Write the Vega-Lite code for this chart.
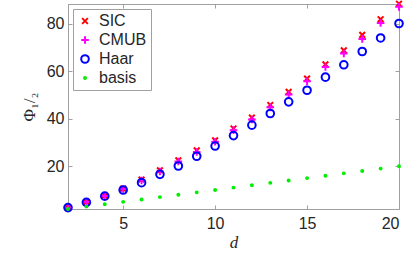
{
  "$schema": "https://vega.github.io/schema/vega-lite/v6.json",
  "width": 331,
  "height": 205,
  "autosize": {"type": "none"},
  "padding": {"left": 68, "top": 4, "right": 10, "bottom": 44},
  "background": "white",
  "config": {
    "view": {"stroke": "#a0a0a0", "strokeWidth": 1},
    "font": "Liberation Sans",
    "axis": {
      "domainColor": "#a0a0a0",
      "tickColor": "#a0a0a0",
      "grid": false,
      "labelColor": "#262626",
      "labelFont": "Liberation Sans",
      "labelFontSize": 16,
      "titleColor": "#262626",
      "tickSize": -4
    }
  },
  "data": {"values": [
    {"d": 2, "series": "SIC", "v": 2.5}, {"d": 3, "series": "SIC", "v": 5.0}, {"d": 4, "series": "SIC", "v": 7.6}, {"d": 5, "series": "SIC", "v": 10.6},
    {"d": 6, "series": "SIC", "v": 14.4}, {"d": 7, "series": "SIC", "v": 18.3}, {"d": 8, "series": "SIC", "v": 22.5}, {"d": 9, "series": "SIC", "v": 26.7},
    {"d": 10, "series": "SIC", "v": 30.9}, {"d": 11, "series": "SIC", "v": 35.9}, {"d": 12, "series": "SIC", "v": 40.5}, {"d": 13, "series": "SIC", "v": 45.8},
    {"d": 14, "series": "SIC", "v": 51.3}, {"d": 15, "series": "SIC", "v": 56.9}, {"d": 16, "series": "SIC", "v": 62.9}, {"d": 17, "series": "SIC", "v": 68.8},
    {"d": 18, "series": "SIC", "v": 75.3}, {"d": 19, "series": "SIC", "v": 81.9}, {"d": 20, "series": "SIC", "v": 88.4},
    {"d": 2, "series": "CMUB", "v": 2.4}, {"d": 3, "series": "CMUB", "v": 4.9}, {"d": 4, "series": "CMUB", "v": 7.5}, {"d": 5, "series": "CMUB", "v": 10.4},
    {"d": 6, "series": "CMUB", "v": 14.0}, {"d": 7, "series": "CMUB", "v": 17.8}, {"d": 8, "series": "CMUB", "v": 22.0}, {"d": 9, "series": "CMUB", "v": 26.0},
    {"d": 10, "series": "CMUB", "v": 30.3}, {"d": 11, "series": "CMUB", "v": 35.2}, {"d": 12, "series": "CMUB", "v": 39.7}, {"d": 13, "series": "CMUB", "v": 44.8},
    {"d": 14, "series": "CMUB", "v": 50.2}, {"d": 15, "series": "CMUB", "v": 55.8}, {"d": 16, "series": "CMUB", "v": 61.8}, {"d": 17, "series": "CMUB", "v": 67.5},
    {"d": 18, "series": "CMUB", "v": 73.6}, {"d": 19, "series": "CMUB", "v": 80.3}, {"d": 20, "series": "CMUB", "v": 87.1},
    {"d": 2, "series": "Haar", "v": 2.6}, {"d": 3, "series": "Haar", "v": 4.8}, {"d": 4, "series": "Haar", "v": 7.4}, {"d": 5, "series": "Haar", "v": 10.0},
    {"d": 6, "series": "Haar", "v": 13.1}, {"d": 7, "series": "Haar", "v": 16.6}, {"d": 8, "series": "Haar", "v": 20.1}, {"d": 9, "series": "Haar", "v": 24.2},
    {"d": 10, "series": "Haar", "v": 28.5}, {"d": 11, "series": "Haar", "v": 32.9}, {"d": 12, "series": "Haar", "v": 37.3}, {"d": 13, "series": "Haar", "v": 42.2},
    {"d": 14, "series": "Haar", "v": 47.1}, {"d": 15, "series": "Haar", "v": 52.0}, {"d": 16, "series": "Haar", "v": 57.5}, {"d": 17, "series": "Haar", "v": 62.7},
    {"d": 18, "series": "Haar", "v": 68.3}, {"d": 19, "series": "Haar", "v": 74.0}, {"d": 20, "series": "Haar", "v": 80.1},
    {"d": 2, "series": "basis", "v": 2}, {"d": 3, "series": "basis", "v": 3}, {"d": 4, "series": "basis", "v": 4}, {"d": 5, "series": "basis", "v": 5},
    {"d": 6, "series": "basis", "v": 6}, {"d": 7, "series": "basis", "v": 7}, {"d": 8, "series": "basis", "v": 8}, {"d": 9, "series": "basis", "v": 9},
    {"d": 10, "series": "basis", "v": 10}, {"d": 11, "series": "basis", "v": 11}, {"d": 12, "series": "basis", "v": 12}, {"d": 13, "series": "basis", "v": 13},
    {"d": 14, "series": "basis", "v": 14}, {"d": 15, "series": "basis", "v": 15}, {"d": 16, "series": "basis", "v": 16}, {"d": 17, "series": "basis", "v": 17},
    {"d": 18, "series": "basis", "v": 18}, {"d": 19, "series": "basis", "v": 19}, {"d": 20, "series": "basis", "v": 20}
  ]},
  "resolve": {"axis": {"x": "independent", "y": "independent"}},
  "layer": [
    {
      "mark": {"type": "point", "filled": false, "strokeWidth": 2, "size": 58, "opacity": 1, "clip": false},
      "encoding": {
        "x": {"field": "d", "type": "quantitative", "scale": {"domain": [2, 20], "nice": false, "zero": false},
              "axis": {"values": [5, 10, 15, 20], "title": "d", "titleFont": "Liberation Serif", "titleFontStyle": "italic", "titleFontWeight": "normal", "titleFontSize": 17, "titlePadding": 3, "labelPadding": 10}},
        "y": {"field": "v", "type": "quantitative", "scale": {"domain": [2, 88.3], "nice": false, "zero": false},
              "axis": {"values": [20, 40, 60, 80], "title": "Φ₁/₂", "titleFont": "Liberation Serif", "titleFontWeight": "normal", "titleFontSize": 17, "titlePadding": 8, "labelPadding": 8}},
        "color": {"field": "series", "type": "nominal",
                  "scale": {"domain": ["SIC", "CMUB", "Haar", "basis"], "range": ["#ff0000", "#ff00ff", "#0000ff", "#00ee00"]},
                  "legend": {"title": null, "orient": "top-left", "offset": 5, "labelFontSize": 16, "labelColor": "#262626", "fillColor": "white", "strokeColor": "#a0a0a0", "padding": 4, "rowPadding": 3, "symbolStrokeWidth": 2, "symbolSize": 58, "labelOffset": 6}},
        "shape": {"field": "series", "type": "nominal",
                  "scale": {"domain": ["SIC", "CMUB", "Haar", "basis"], "range": ["M-0.75,-0.75L0.75,0.75M-0.75,0.75L0.75,-0.75", "M-1,0L1,0M0,-1L0,1", "circle", "M-0.26,0A0.26,0.26 0 1,0 0.26,0A0.26,0.26 0 1,0 -0.26,0Z"]}}
      }
    },
    {
      "mark": {"type": "point", "opacity": 0},
      "encoding": {
        "x": {"field": "d", "type": "quantitative", "axis": {"orient": "top", "values": [5, 10, 15, 20], "labels": false, "title": null, "domain": false}},
        "y": {"field": "v", "type": "quantitative", "axis": {"orient": "right", "values": [20, 40, 60, 80], "labels": false, "title": null, "domain": false}}
      }
    }
  ]
}
